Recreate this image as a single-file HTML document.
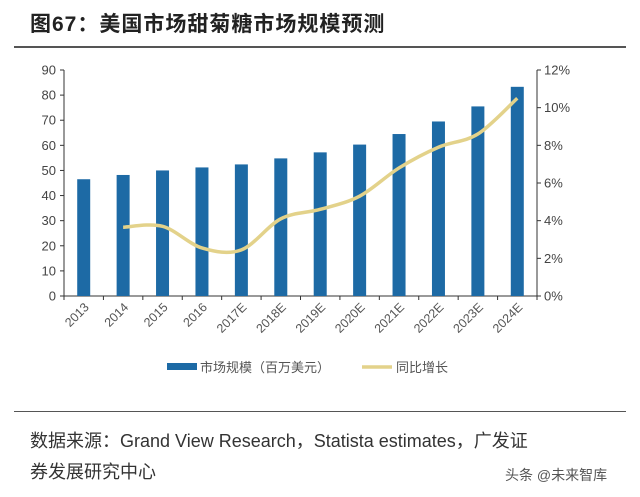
<!DOCTYPE html>
<html><head><meta charset="utf-8"><style>
body{margin:0;width:640px;height:497px;background:#fff;overflow:hidden;font-family:"Liberation Sans","Noto Sans CJK SC",sans-serif;position:relative}
#title{position:absolute;left:30px;top:8px;font-size:21px;font-weight:bold;color:#222;letter-spacing:1px}
.rule{position:absolute;left:14px;width:612px;height:2px;background:#555}
.src{position:absolute;left:30px;font-size:18px;color:#333}
</style></head><body>
<div id="title">图67：美国市场甜菊糖市场规模预测</div>
<div class="rule" style="top:46px"></div>
<svg id="chart" width="640" height="400" style="position:absolute;left:0;top:0"></svg>
<div class="rule" style="top:411px;height:1px"></div>
<div class="src" style="top:427px">数据来源：Grand View Research，Statista estimates，广发证</div>
<div class="src" style="top:458px">券发展研究中心</div>
<div style="position:absolute;left:505px;top:465px;font-size:14px;color:#555">头条 @未来智库</div>
<script>
const categories=["2013","2014","2015","2016","2017E","2018E","2019E","2020E","2021E","2022E","2023E","2024E"];
const marketSize=[46.5,48.2,50,51.2,52.4,54.8,57.2,60.3,64.5,69.5,75.5,83.3];
const growth=[null,3.65,3.7,2.55,2.45,4.1,4.6,5.3,6.8,7.9,8.6,10.5];
const leftTicks=[0,10,20,30,40,50,60,70,80,90];
const rightTicks=[0,2,4,6,8,10,12];
const svg=document.getElementById('chart');const NS='http://www.w3.org/2000/svg';
const X0=64,X1=537,Y0=296,Y1=70;
const band=(X1-X0)/categories.length;
const xc=i=>X0+band*(i+0.5);
const yl=v=>Y0-(v/90)*(Y0-Y1);
const yr=v=>Y0-(v/12)*(Y0-Y1);
function el(t,a,p){const e=document.createElementNS(NS,t);for(const k in a)e.setAttribute(k,a[k]);(p||svg).appendChild(e);return e;}
let e;
e=el('line',{x1:X0,y1:Y1,x2:X0,y2:Y0,stroke:'#333'});


e=el('line',{x1:X1,y1:Y1,x2:X1,y2:Y0,stroke:'#333'});


e=el('line',{x1:X0,y1:Y0,x2:X1,y2:Y0,stroke:'#333'});


leftTicks.forEach(v=>{el('line',{x1:X0-4,y1:yl(v),x2:X0,y2:yl(v),stroke:'#333'});
e=el('text',{x:X0-8,y:yl(v)+4.5,'text-anchor':'end','font-size':13,fill:'#444'});e.textContent=v;

});
rightTicks.forEach(v=>{el('line',{x1:X1,y1:yr(v),x2:X1+4,y2:yr(v),stroke:'#333'});
e=el('text',{x:X1+7,y:yr(v)+4.5,'font-size':13,fill:'#444'});e.textContent=v+'%';

});
for(let i=0;i<=categories.length;i++)el('line',{x1:X0+band*i,y1:Y0,x2:X0+band*i,y2:Y0+4,stroke:'#333'});
categories.forEach((c,i)=>{
e=el('rect',{x:xc(i)-6.5,y:yl(marketSize[i]),width:13,height:Y0-yl(marketSize[i]),fill:'#1d6aa5'});


e=el('text',{x:0,y:0,'text-anchor':'end','font-size':12.5,fill:'#555',transform:`translate(${xc(i)+6},${Y0+12}) rotate(-45)`});e.textContent=c;


});
let pts=[];growth.forEach((g,i)=>{if(g!==null)pts.push([xc(i),yr(g)]);});
let d='M'+pts[0].join(',');
for(let i=0;i<pts.length-1;i++){const p0=pts[Math.max(i-1,0)],p1=pts[i],p2=pts[i+1],p3=pts[Math.min(i+2,pts.length-1)];
const t=0.3;
const c1=[p1[0]+(p2[0]-p0[0])*t/2*1.1,p1[1]+(p2[1]-p0[1])*t/2*1.1];
const c2=[p2[0]-(p3[0]-p1[0])*t/2*1.1,p2[1]-(p3[1]-p1[1])*t/2*1.1];
d+=` C${c1[0]},${c1[1]} ${c2[0]},${c2[1]} ${p2[0]},${p2[1]}`;}
e=el('path',{d:d,fill:'none',stroke:'#e3d28a','stroke-width':3.5,'stroke-linejoin':'round'});


e=el('rect',{x:167,y:363,width:30,height:7,fill:'#1d6aa5'});


e=el('text',{x:200,y:372,'font-size':13,fill:'#555'});e.textContent='市场规模（百万美元）';


e=el('line',{x1:362,y1:367,x2:392,y2:367,stroke:'#e3d28a','stroke-width':3.5});


e=el('text',{x:396,y:372,'font-size':13,fill:'#555'});e.textContent='同比增长';


</script>
</body></html>
